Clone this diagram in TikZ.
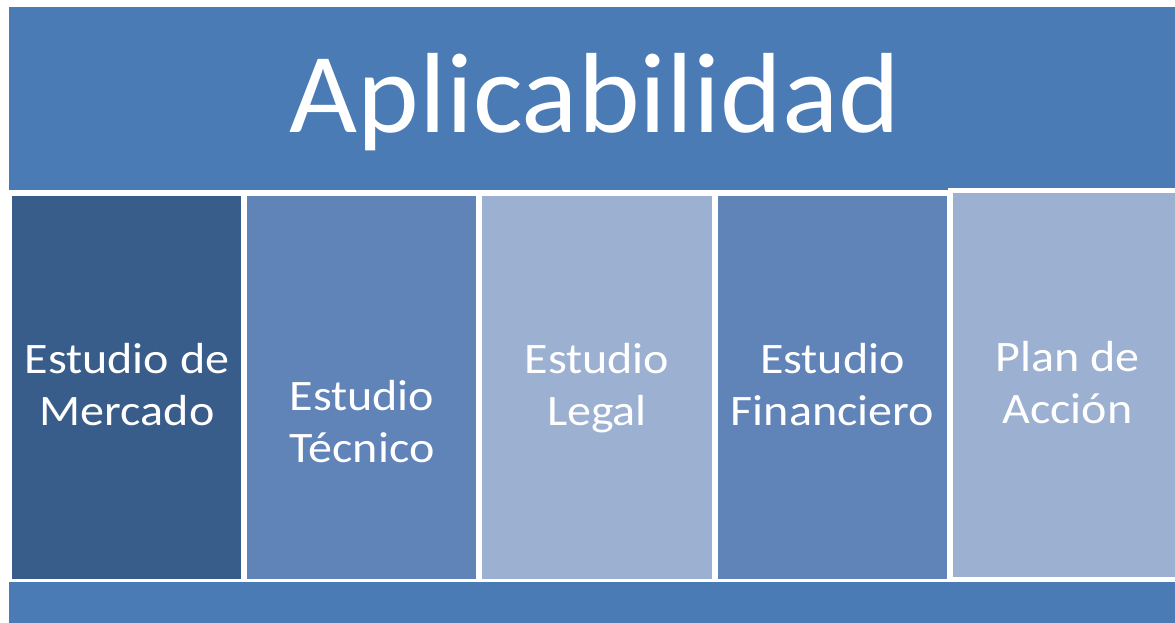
\documentclass[tikz,border=0pt]{standalone}
\usepackage{graphicx}
\usepackage{fontspec}
\setmainfont{Carlito}
\definecolor{barblue}{HTML}{4A7BB5}
\definecolor{darkblue}{HTML}{395D8A}
\definecolor{midblue}{HTML}{6083B8}
\definecolor{lightblue}{HTML}{9CB0D1}
\newcommand{\colstretch}[1]{\scalebox{1.105}[1]{#1}}
\newcommand{\titlestretch}[1]{\scalebox{1.03}[1]{#1}}
\tikzset{
  coltext/.style={anchor=base, text=white, inner sep=0pt, font=\fontsize{43.5}{52}\selectfont},
  titletext/.style={anchor=base, text=white, inner sep=0pt, font=\fontsize{114}{130}\selectfont}
}
\begin{document}
\begin{tikzpicture}[x=1pt,y=-1pt]
\useasboundingbox (0,0) rectangle (1175,622);
\fill[white] (0,0) rectangle (1175,622);
% top bar
\fill[barblue] (9,7) rectangle (1190,190);
% bottom bar
\fill[barblue] (9,582) rectangle (1190,630);
% columns
\fill[darkblue] (12,196) rectangle (241,579);
\fill[midblue] (247,196) rectangle (476,579);
\fill[lightblue] (482,196) rectangle (712,579);
\fill[midblue] (718,196) rectangle (947,579);
\fill[white] (948,188) rectangle (1190,582);
\fill[lightblue] (953,193) rectangle (1190,577);
% texts
\node[titletext] (title) at (595,132) {\titlestretch{Aplicabilidad}};
\node[coltext] (c1a) at (127,373) {\colstretch{Estudio de}};
\node[coltext] (c1b) at (127,425) {\colstretch{Mercado}};
\node[coltext] (c2a) at (362,410) {\colstretch{Estudio}};
\node[coltext] (c2b) at (362,462) {\colstretch{Técnico}};
\node[coltext] (c3a) at (597,373) {\colstretch{Estudio}};
\node[coltext] (c3b) at (597,425) {\colstretch{Legal}};
\node[coltext] (c4a) at (832.5,373) {\colstretch{Estudio}};
\node[coltext] (c4b) at (832.5,425) {\colstretch{Financiero}};
\node[coltext] (c5a) at (1067.5,371) {\colstretch{Plan de}};
\node[coltext] (c5b) at (1067.5,423) {\colstretch{Acción}};
\end{tikzpicture}
\end{document}
